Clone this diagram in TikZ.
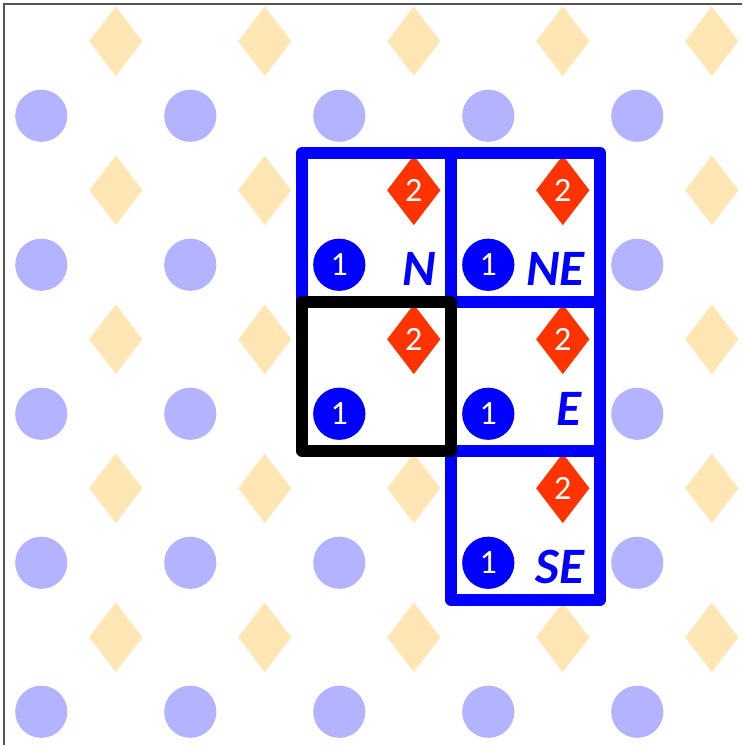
\documentclass[tikz,border=0pt]{standalone}
\usepackage{fontspec}
\setmainfont{Carlito}
\usetikzlibrary{shapes.geometric}
\definecolor{DotBlue}{HTML}{B3B3FF}
\definecolor{DotOrange}{HTML}{FFE6B4}
\definecolor{MarkBlue}{HTML}{0000FF}
\definecolor{MarkRed}{HTML}{FF3300}
\definecolor{FrameGray}{HTML}{555555}
\tikzset{
    bgdot/.style={circle, fill=DotBlue, minimum size=0.7cm, inner sep=0pt},
    bgdiam/.style={diamond, fill=DotOrange, minimum width=0.72cm, minimum height=0.94cm, inner sep=0pt},
    onedot/.style={bgdot, fill=MarkBlue, text=white, font=\fontsize{13}{13}\selectfont},
    twodiam/.style={bgdiam, fill=MarkRed, text=white, font=\fontsize{13}{13}\selectfont},
    cellbox/.style={draw=MarkBlue, line width=4.4pt, line join=round, minimum size=2cm, inner sep=0pt, outer sep=0pt},
    dirlabel/.style={text=MarkBlue, font=\fontsize{19.5}{19.5}\selectfont\bfseries\itshape, inner sep=0pt, anchor=base east}
}

\begin{document}
\begin{tikzpicture}[x=2cm, y=2cm]
            \useasboundingbox (-0.027, 0.027) rectangle (4.953, -4.973);
            \clip (-0.027, 0.027) rectangle (4.953, -4.973);
            \draw[FrameGray, line width=0.5pt] (0, 0) rectangle (5, -5);
            % background pattern: one dot and one diamond per cell
            \foreach \c in {0,...,4}
                \foreach \r in {0,...,4} {
                    \node[bgdot] (dot-\c-\r) at (\c+0.25, -\r-0.75) {};
                    \node[bgdiam] (diam-\c-\r) at (\c+0.75, -\r-0.25) {};
                }
            \foreach \c/\r in {2/1, 3/1, 2/2, 3/2, 3/3} {
                \node[onedot] (one-\c-\r) at (\c+0.25, -\r-0.75) {1};
                \node[twodiam] (two-\c-\r) at (\c+0.75, -\r-0.25) {2};
            }
            \node[cellbox] (cellN) at (2.5, -1.5) {};
            \node[cellbox] (cellNE) at (3.5, -1.5) {};
            \node[cellbox] (cellE) at (3.5, -2.5) {};
            \node[cellbox] (cellSE) at (3.5, -3.5) {};
            \node[cellbox, draw=black] (cellC) at (2.5, -2.5) {};
            \node[dirlabel] (labN) at ([xshift=-0.19cm, yshift=0.22cm]cellN.south east) {N};
            \node[dirlabel] (labNE) at ([xshift=-0.2cm, yshift=0.22cm]cellNE.south east) {NE};
            \node[dirlabel] (labE) at ([xshift=-0.24cm, yshift=0.34cm]cellE.south east) {E};
            \node[dirlabel] (labSE) at ([xshift=-0.2cm, yshift=0.22cm]cellSE.south east) {SE};
        \end{tikzpicture}
\end{document}
